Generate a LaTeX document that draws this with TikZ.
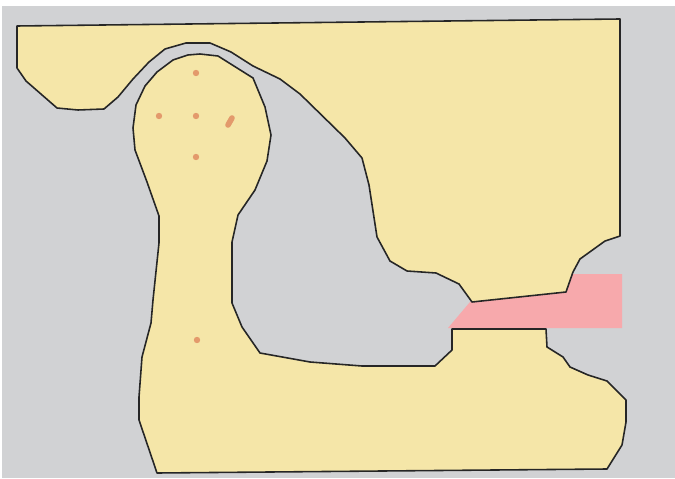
\documentclass[tikz,border=0pt]{standalone}
\usepackage{tikz}
\definecolor{bonefill}{HTML}{F5E6A8}
\definecolor{gapgrey}{HTML}{D1D2D4}
\definecolor{wedgepink}{HTML}{F7A9AC}
\definecolor{pinorange}{HTML}{E39A6C}
\tikzstyle{bone} = [draw=black!85, fill=bonefill, line width=0.9pt, line join=round]
\tikzstyle{wedge} = [fill=wedgepink]
\tikzstyle{pin} = [fill=pinorange]
\tikzstyle{pinstroke} = [draw=pinorange, line width=3.2pt, line cap=round]

\begin{document}
\begin{tikzpicture}[x=0.02cm, y=-0.02cm]
    \useasboundingbox (0,0) rectangle (675,479);
    \fill[gapgrey] (2,6) rectangle (675,478);
    % wedge between the jaws
    \fill[wedge] (448,328) -- (622,328) -- (622,274) -- (573,274) -- (565,292) -- (470,302) -- cycle;
    % upper block
    \draw[bone] (17,26) -- (620,19) -- (620,236) -- (605,241) -- (580,259) -- (573,272)
        -- (566,292) -- (472,302) -- (459,284) -- (436,273) -- (407,271) -- (390,261)
        -- (377,237) -- (369,185) -- (362,158) -- (345,138) -- (300,94) -- (280,79)
        -- (253,66) -- (231,52) -- (210,43) -- (186,43) -- (165,49) -- (149,62)
        -- (133,79) -- (118,97) -- (104,109) -- (78,110) -- (57,108) -- (26,81)
        -- (17,68) -- cycle;
    % lower block with the round head
    \draw[bone] (157,473) -- (607,469) -- (622,445) -- (626,422) -- (626,400) -- (607,381)
        -- (588,375) -- (570,367) -- (563,357) -- (547,347) -- (546,329) -- (452,329)
        -- (452,350) -- (435,366) -- (362,366) -- (310,362) -- (260,353) -- (242,327)
        -- (232,303) -- (232,242) -- (238,215) -- (255,190) -- (267,161) -- (271,135)
        -- (265,107) -- (253,78) -- (218,56) -- (200,54) -- (188,55) -- (173,60)
        -- (157,72) -- (145,86) -- (136,105) -- (133,128) -- (135,150) -- (147,182)
        -- (159,216) -- (159,243) -- (153,300) -- (151,323) -- (142,357) -- (139,397)
        -- (139,420) -- cycle;
    % pins
    \foreach \px/\py in {196/73, 159/116, 196/116, 196/157, 197/340}
        \fill[pin] (\px,\py) circle (3.2);
    \draw[pinstroke] (228,125) -- (232,118);
\end{tikzpicture}
\end{document}
